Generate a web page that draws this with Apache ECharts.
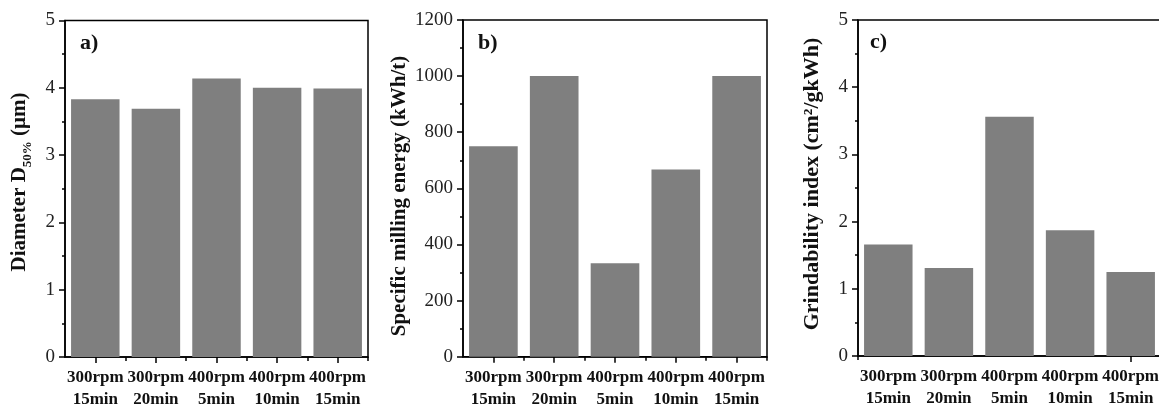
<!DOCTYPE html>
<html>
<head>
<meta charset="utf-8">
<script src="https://cdn.jsdelivr.net/npm/echarts@6/dist/echarts.min.js"></script>
<style>
html,body{margin:0;padding:0;background:#fff;}
#chart{width:1159px;height:407px;}
</style>
</head>
<body>
<div id="chart"></div>
<script>
const categories = ['300rpm\n15min', '300rpm\n20min', '400rpm\n5min', '400rpm\n10min', '400rpm\n15min'];
const diameterD50 = [3.83, 3.69, 4.14, 4.00, 3.99];
const millingEnergy = [750, 1000, 333, 667, 1000];
const grindability = [1.66, 1.31, 3.56, 1.87, 1.25];
const panelLabels = ['a)', 'b)', 'c)'];

const serif = "'Liberation Serif', 'Times New Roman', serif";
const barColor = '#7f7f7f';

const grids = [
  {left: 65, top: 20.5, width: 303, height: 336.5},
  {left: 463, top: 20, width: 304, height: 336.7},
  {left: 858, top: 20, width: 303, height: 336}
].map(g => Object.assign({show: true, borderColor: '#000', borderWidth: 1.5, backgroundColor: 'transparent',
  containLabel: false, outerBoundsMode: 'none'}, g));

function mainX(gi, tickFilter) {
  return {
    type: 'category', gridIndex: gi, data: categories, position: 'bottom',
    axisLine: {show: true, lineStyle: {color: '#000', width: 1.5}},
    axisTick: {show: true, alignWithLabel: true, length: 6, lineStyle: {color: '#000', width: 1.5},
      interval: tickFilter || 0},
    axisLabel: {show: true, interval: 0, margin: 10, fontFamily: serif, fontWeight: 'bold', fontSize: 17,
      lineHeight: 22, color: '#111'},
    splitLine: {show: false}
  };
}
function minorX(gi, tickFilter) {
  return {
    type: 'category', gridIndex: gi, data: categories, position: 'bottom',
    axisLine: {show: false},
    axisTick: {show: true, alignWithLabel: false, length: 4, lineStyle: {color: '#000', width: 1.5},
      interval: tickFilter},
    axisLabel: {show: false},
    splitLine: {show: false}
  };
}
function valY(gi, max, interval) {
  return {
    type: 'value', gridIndex: gi, min: 0, max: max, interval: interval,
    axisLine: {show: true, lineStyle: {color: '#000', width: 1.5}},
    axisTick: {show: true, inside: false, length: 6, lineStyle: {color: '#000', width: 1.5}},
    minorTick: {show: true, splitNumber: 2, length: 3, lineStyle: {color: '#000', width: 1.5}},
    axisLabel: {fontFamily: serif, fontSize: 19, color: '#222', margin: 10, formatter: (v) => String(v)},
    splitLine: {show: false}
  };
}

const xAxes = [
  mainX(0), mainX(1), mainX(2, (i) => i === 4),
  minorX(0, (i) => i > 0 && i < 5), minorX(1, (i) => i > 0 && i < 5), minorX(2, (i) => i === 2)
];
const yAxes = [valY(0, 5, 1), valY(1, 1200, 200), valY(2, 5, 1)];

function barSeries(xi, yi, data) {
  return {type: 'bar', xAxisIndex: xi, yAxisIndex: yi, data: data, barCategoryGap: '20%',
    itemStyle: {color: barColor}, silent: true, z: 1};
}

const titleFont = 'bold 21px ' + serif;
function vTitle(x, y, text, rich, font) {
  return {type: 'text', x: x, y: y, rotation: Math.PI / 2, silent: true,
    style: {text: text, font: font || titleFont, fill: '#111', align: 'center', verticalAlign: 'middle', rich: rich}};
}

const chart = echarts.init(document.getElementById('chart'), null, {renderer: 'canvas'});
chart.setOption({
  animation: false,
  backgroundColor: '#fff',
  grid: grids,
  xAxis: xAxes,
  yAxis: yAxes,
  series: [
    barSeries(0, 0, diameterD50),
    barSeries(1, 1, millingEnergy),
    barSeries(2, 2, grindability)
  ],
  graphic: [
    vTitle(20, 182, '{a|Diameter D}{s|50%}{a| (μm)}', {
      a: {font: titleFont, fill: '#111', lineHeight: 28, verticalAlign: 'middle'},
      s: {font: 'bold 13px ' + serif, fill: '#111', lineHeight: 28, verticalAlign: 'bottom'}
    }),
    vTitle(400, 196, 'Specific milling energy (kWh/t)'),
    vTitle(812, 184, 'Grindability index (cm²/gkWh)', null, 'bold 22px ' + serif),
    {type: 'text', x: 80, y: 32, silent: true, style: {text: panelLabels[0], font: 'bold 22px ' + serif, fill: '#111'}},
    {type: 'text', x: 478, y: 32, silent: true, style: {text: panelLabels[1], font: 'bold 22px ' + serif, fill: '#111'}},
    {type: 'text', x: 870, y: 31, silent: true, style: {text: panelLabels[2], font: 'bold 22px ' + serif, fill: '#111'}}
  ]
});
</script>
</body>
</html>
